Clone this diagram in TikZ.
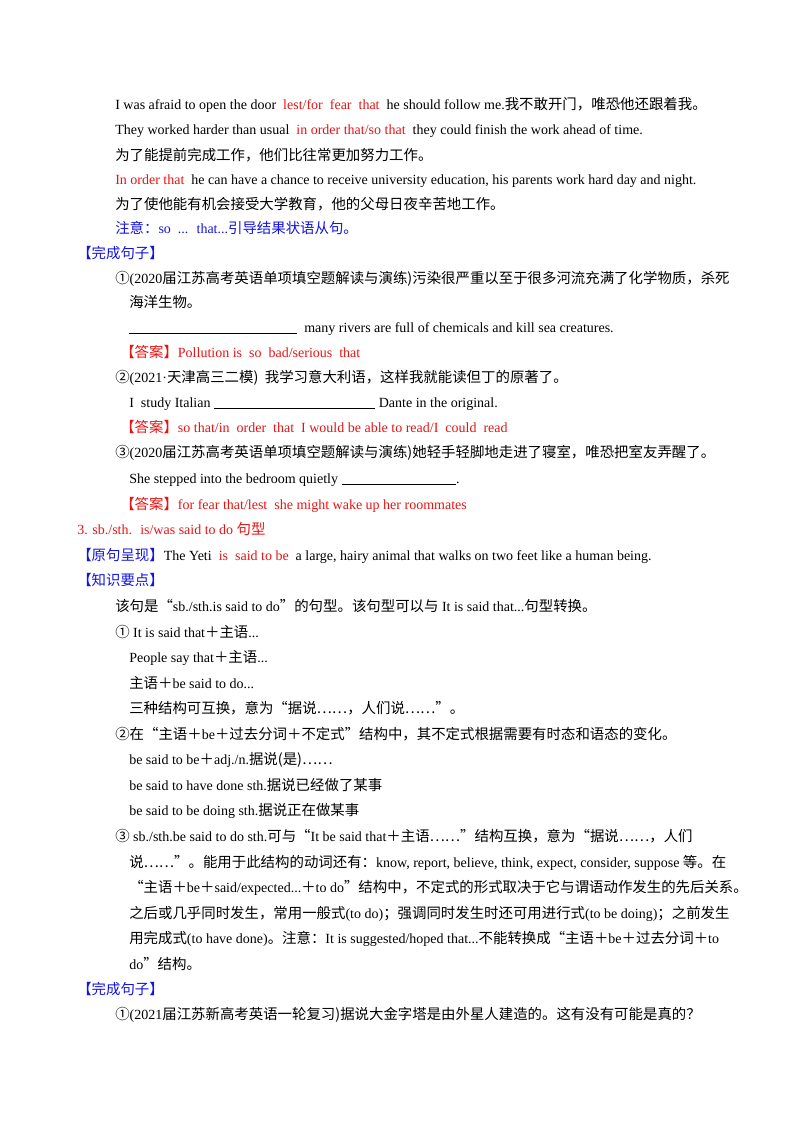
\documentclass[tikz,border=0pt]{standalone}
\usepackage{fontspec}
\setmainfont{Liberation Serif}
\newfontfamily\zhfont[Scale=1.03]{Noto Sans CJK SC}
\newcommand\zh[1]{{\zhfont #1}}
\newcommand\ul[1]{\rule[-1.5pt]{#1pt}{0.4pt}}
\definecolor{myred}{RGB}{230,20,20}
\definecolor{myblue}{RGB}{20,20,220}
\newcommand\R[1]{\textcolor{myred}{#1}}
\tikzset{ln/.style={anchor=base west,inner sep=0pt,font=\fontsize{10.5}{12}\selectfont}}
\begin{document}
\begin{tikzpicture}[x=0.75pt,y=-0.75pt]
\useasboundingbox (0,0) rectangle (800,1132);
\node[ln] (l1) at (115,109) {I was afraid to open the door \ \R{lest/for \ fear \ that} \ he should follow me.\zh{我不敢开门，唯恐他还跟着我。}};
\node[ln] (l2) at (115,134) {They worked harder than usual \ \R{in order that/so that} \ they could finish the work ahead of time.};
\node[ln] (l3) at (115,160) {\zh{为了能提前完成工作，他们比往常更加努力工作。}};
\node[ln] (l4) at (115,184) {\R{In order that} \ he can have a chance to receive university education, his parents work hard day and night.};
\node[ln] (l5) at (115,209) {\zh{为了使他能有机会接受大学教育，他的父母日夜辛苦地工作。}};
\node[ln,text=myblue] (l6) at (115,233) {\zh{注意：}so \ ... \ that...\zh{引导结果状语从句。}};
\node[ln,text=myblue] (l7) at (77,258) {\zh{【完成句子】}};
\node[ln] (l8) at (115,283) {\zh{①}(2020\zh{届江苏高考英语单项填空题解读与演练)污染很严重以至于很多河流充满了化学物质，杀死}};
\node[ln] (l9) at (129,307) {\zh{海洋生物。}};
\node[ln] (l10) at (129,332) {\ul{126} \ many rivers are full of chemicals and kill sea creatures.};
\node[ln,text=myred] (l11) at (120,357) {\zh{【答案】}Pollution is \ so \ bad/serious \ that};
\node[ln] (l12) at (115,382) {\zh{②}(2021·\zh{天津高三二模) \ 我学习意大利语，这样我就能读但丁的原著了。}};
\node[ln] (l13) at (129,407) {I \ study Italian \ul{121} Dante in the original.};
\node[ln,text=myred] (l14) at (120,432) {\zh{【答案】}so that/in \ order \ that \ I would be able to read/I \ could \ read};
\node[ln] (l15) at (115,457) {\zh{③}(2020\zh{届江苏高考英语单项填空题解读与演练)她轻手轻脚地走进了寝室，唯恐把室友弄醒了。}};
\node[ln] (l16) at (129,483) {She stepped into the bedroom quietly \ul{86}.};
\node[ln,text=myred] (l17) at (120,509) {\zh{【答案】}for fear that/lest \ she might wake up her roommates};
\node[ln,text=myred] (l18) at (77,534) {3. sb./sth. \ is/was said to do \zh{句型}};
\node[ln] (l19) at (77,560) {\textcolor{myblue}{\zh{【原句呈现】}}The Yeti \ \R{is \ said to be} \ a large, hairy animal that walks on two feet like a human being.};
\node[ln,text=myblue] (l20) at (77,585) {\zh{【知识要点】}};
\node[ln] (l21) at (115,611) {\zh{该句是“}sb./sth.is said to do\zh{”的句型。该句型可以与} It is said that...\zh{句型转换。}};
\node[ln] (l22) at (115,637) {\zh{①} It is said that\zh{＋主语}...};
\node[ln] (l23) at (129,662) {People say that\zh{＋主语}...};
\node[ln] (l24) at (129,688) {\zh{主语＋}be said to do...};
\node[ln] (l25) at (129,713) {\zh{三种结构可互换，意为“据说……，人们说……”。}};
\node[ln] (l26) at (115,739) {\zh{②在“主语＋}be\zh{＋过去分词＋不定式”结构中，其不定式根据需要有时态和语态的变化。}};
\node[ln] (l27) at (129,764) {be said to be\zh{＋}adj./n.\zh{据说(是)……}};
\node[ln] (l28) at (129,790) {be said to have done sth.\zh{据说已经做了某事}};
\node[ln] (l29) at (129,815) {be said to be doing sth.\zh{据说正在做某事}};
\node[ln] (l30) at (115,841) {\zh{③} sb./sth.be said to do sth.\zh{可与“}It be said that\zh{＋主语……”结构互换，意为“据说……，人们}};
\node[ln] (l31) at (129,867) {\zh{说……”。能用于此结构的动词还有：}know, report, believe, think, expect, consider, suppose \zh{等。在}};
\node[ln] (l32) at (129,892) {\zh{“主语＋}be\zh{＋}said/expected...\zh{＋}to do\zh{”结构中，不定式的形式取决于它与谓语动作发生的先后关系。}};
\node[ln] (l33) at (129,918) {\zh{之后或几乎同时发生，常用一般式}(to do)\zh{；强调同时发生时还可用进行式}(to be doing)\zh{；之前发生}};
\node[ln] (l34) at (129,943) {\zh{用完成式}(to have done)\zh{。注意：}It is suggested/hoped that...\zh{不能转换成“主语＋}be\zh{＋过去分词＋}to};
\node[ln] (l35) at (129,969) {do\zh{”结构。}};
\node[ln,text=myblue] (l36) at (77,994) {\zh{【完成句子】}};
\node[ln] (l37) at (115,1019) {\zh{①}(2021\zh{届江苏新高考英语一轮复习)据说大金字塔是由外星人建造的。这有没有可能是真的？}};
\end{tikzpicture}
\end{document}
